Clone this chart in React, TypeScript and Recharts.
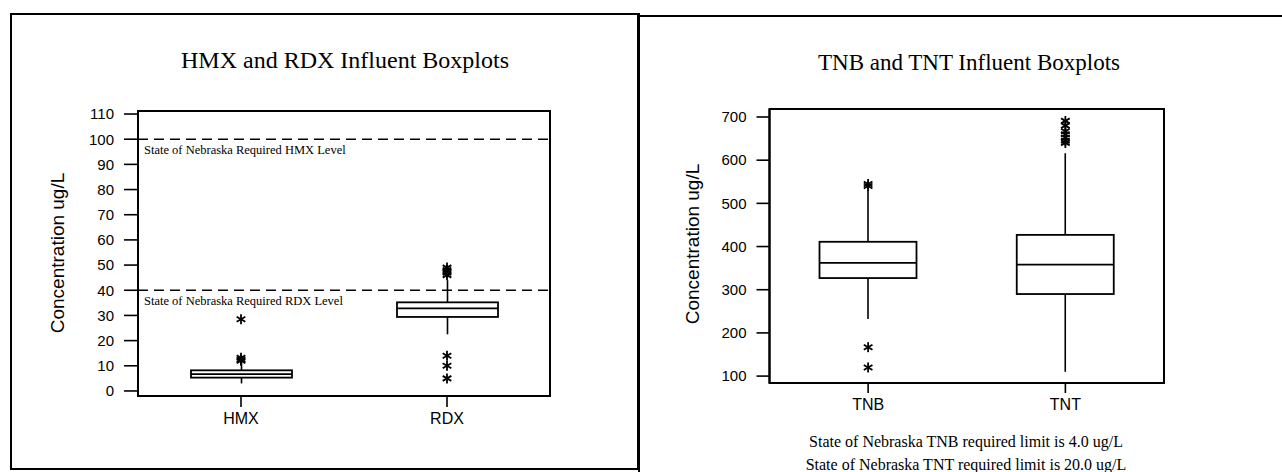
import React from 'react';
import { ComposedChart, Bar, Scatter, XAxis, YAxis, ReferenceLine, ReferenceArea } from 'recharts';

// ---- Left chart data (HMX / RDX) ----
const leftCategories = ['HMX', 'RDX'];
const leftQ1 = [5.3, 29.4];
const leftMedian = [6.7, 32.8];
const leftQ3 = [8.2, 35.2];
const leftWhiskerLow = [3.0, 22.5];
const leftWhiskerHigh = [11.5, 44.0];
const leftOutlierCats = ['HMX', 'HMX', 'HMX', 'HMX', 'RDX', 'RDX', 'RDX', 'RDX', 'RDX', 'RDX', 'RDX'];
const leftOutlierValues = [28.5, 13.2, 12.5, 12.0, 49.0, 48.0, 47.0, 46.0, 14.0, 10.0, 5.0];
const leftTicks = [0, 10, 20, 30, 40, 50, 60, 70, 80, 90, 100, 110];
const leftDomain = [-2, 111.2];
const leftLimits = [100, 40];
const leftLimitLabels = ['State of Nebraska Required HMX Level', 'State of Nebraska Required RDX Level'];

// ---- Right chart data (TNB / TNT) ----
const rightCategories = ['TNB', 'TNT'];
const rightQ1 = [327, 290];
const rightMedian = [362, 358];
const rightQ3 = [411, 427];
const rightWhiskerLow = [232, 110];
const rightWhiskerHigh = [531, 616];
const rightOutlierCats = ['TNB', 'TNB', 'TNB', 'TNB', 'TNT', 'TNT', 'TNT', 'TNT', 'TNT', 'TNT', 'TNT'];
const rightOutlierValues = [545, 540, 167, 120, 691, 680, 667, 660, 652, 645, 640];
const rightTicks = [100, 200, 300, 400, 500, 600, 700];
const rightDomain = [84, 718.5];
const rightNotes = [
  'State of Nebraska TNB required limit is 4.0 ug/L',
  'State of Nebraska TNT required limit is 20.0 ug/L',
];

const SERIF = '"Liberation Serif", "Times New Roman", serif';
const SANS = '"Liberation Sans", Arial, Helvetica, sans-serif';

function buildBoxData(cats: string[], q1: number[], med: number[], q3: number[], lo: number[], hi: number[]) {
  return cats.map((name, i) => ({
    name,
    box: [q1[i], q3[i]],
    q1: q1[i],
    median: med[i],
    q3: q3[i],
    low: lo[i],
    high: hi[i],
  }));
}

function buildOutliers(cats: string[], vals: number[]) {
  return cats.map((name, i) => ({ name, v: vals[i] }));
}

const BoxShape = (props: any) => {
  const { x, y, width, height, payload } = props;
  if (x == null || y == null || !payload) return null;
  const span = payload.q3 - payload.q1;
  const k = span !== 0 ? height / span : 0;
  const cx = x + width / 2;
  const yMed = y + (payload.q3 - payload.median) * k;
  const yHigh = y - (payload.high - payload.q3) * k;
  const yLow = y + height + (payload.q1 - payload.low) * k;
  return (
    <g>
      <line x1={cx} x2={cx} y1={yHigh} y2={y} stroke="#000" strokeWidth={1.6} />
      <line x1={cx} x2={cx} y1={y + height} y2={yLow} stroke="#000" strokeWidth={1.6} />
      <rect x={x} y={y} width={width} height={height} fill="#fff" stroke="#000" strokeWidth={1.8} />
      <line x1={x} x2={x + width} y1={yMed} y2={yMed} stroke="#000" strokeWidth={1.8} />
    </g>
  );
};

const Asterisk = (props: any) => {
  const { cx, cy } = props;
  if (cx == null || cy == null) return null;
  const r = 5;
  const lines = [90, 30, 150].map((deg) => {
    const a = (deg * Math.PI) / 180;
    return { dx: Math.cos(a) * r, dy: Math.sin(a) * r };
  });
  return (
    <g>
      {lines.map((l, i) => (
        <line key={i} x1={cx - l.dx} y1={cy - l.dy} x2={cx + l.dx} y2={cy + l.dy} stroke="#000" strokeWidth={1.8} />
      ))}
    </g>
  );
};

const Text = ({ x, y, size, font, children, rotate }: any) => (
  <div
    style={{
      position: 'absolute',
      left: x,
      top: y,
      transform: `translate(-50%, -50%)${rotate ? ` rotate(${rotate}deg)` : ''}`,
      fontFamily: font,
      fontSize: size,
      lineHeight: 1,
      whiteSpace: 'nowrap',
      color: '#000',
    }}
  >
    {children}
  </div>
);

const leftData = buildBoxData(leftCategories, leftQ1, leftMedian, leftQ3, leftWhiskerLow, leftWhiskerHigh);
const leftOut = buildOutliers(leftOutlierCats, leftOutlierValues);
const rightData = buildBoxData(rightCategories, rightQ1, rightMedian, rightQ3, rightWhiskerLow, rightWhiskerHigh);
const rightOut = buildOutliers(rightOutlierCats, rightOutlierValues);

const axisLine = { stroke: '#000', strokeWidth: 2 };
const tickLine = { stroke: '#000', strokeWidth: 1.6 };

export default function App() {
  return (
    <div style={{ position: 'absolute', left: 0, top: 0, width: 1282, height: 472, background: '#fff', overflow: 'hidden' }}>
      {/* frames */}
      <div style={{ position: 'absolute', left: 10, top: 13, width: 629, height: 457, border: '2px solid #000', boxSizing: 'border-box' }} />
      <div style={{ position: 'absolute', left: 638, top: 15, width: 644, height: 2, background: '#000' }} />
      <div style={{ position: 'absolute', left: 638, top: 13, width: 2, height: 459, background: '#000' }} />

      {/* Left chart */}
      <div style={{ position: 'absolute', left: 0, top: 0 }}>
        <ComposedChart
          width={640}
          height={472}
          data={leftData}
          margin={{ top: 111, right: 90, bottom: 36, left: 78 }}
        >
          <XAxis
            dataKey="name"
            type="category"
            allowDuplicatedCategory={false}
            height={40}
            axisLine={axisLine}
            tickLine={tickLine}
            tickSize={11}
            tickMargin={6}
            tick={{ fill: '#000', fontSize: 16, fontFamily: SANS }}
          />
          <YAxis
            type="number"
            domain={leftDomain}
            ticks={leftTicks}
            allowDataOverflow
            width={60}
            axisLine={axisLine}
            tickLine={tickLine}
            tickSize={14}
            tickMargin={10}
            tick={{ fill: '#000', fontSize: 15, fontFamily: SANS }}
            interval={0}
          />
          <ReferenceArea y1={leftDomain[0]} y2={leftDomain[1]} fill="none" fillOpacity={0} stroke="#000" strokeWidth={2} ifOverflow="visible" />
          {leftLimits.map((v, i) => (
            <ReferenceLine
              key={v}
              y={v}
              stroke="#000"
              strokeWidth={1.6}
              strokeDasharray="10 6"
              label={{ value: leftLimitLabels[i], position: 'insideTopLeft', offset: 6, fill: '#000', fontSize: 12.5, fontFamily: SERIF }}
            />
          ))}
          <Bar dataKey="box" barSize={101} shape={BoxShape} isAnimationActive={false} />
          <Scatter data={leftOut} dataKey="v" shape={Asterisk} isAnimationActive={false} />
        </ComposedChart>
      </div>

      {/* Right chart */}
      <div style={{ position: 'absolute', left: 640, top: 0 }}>
        <ComposedChart
          width={642}
          height={472}
          data={rightData}
          margin={{ top: 109, right: 118, bottom: 49, left: 70 }}
        >
          <XAxis
            dataKey="name"
            type="category"
            allowDuplicatedCategory={false}
            height={40}
            axisLine={axisLine}
            tickLine={tickLine}
            tickSize={10}
            tickMargin={6}
            tick={{ fill: '#000', fontSize: 16, fontFamily: SANS }}
          />
          <YAxis
            type="number"
            domain={rightDomain}
            ticks={rightTicks}
            allowDataOverflow
            width={59.5}
            axisLine={axisLine}
            tickLine={tickLine}
            tickSize={13}
            tickMargin={10}
            tick={{ fill: '#000', fontSize: 15, fontFamily: SANS }}
            interval={0}
          />
          <ReferenceArea y1={rightDomain[0]} y2={rightDomain[1]} fill="none" fillOpacity={0} stroke="#000" strokeWidth={2} ifOverflow="visible" />
          <Bar dataKey="box" barSize={97} shape={BoxShape} isAnimationActive={false} />
          <Scatter data={rightOut} dataKey="v" shape={Asterisk} isAnimationActive={false} />
        </ComposedChart>
      </div>

      {/* Titles and labels */}
      <Text x={345} y={60} size={24} font={SERIF}>HMX and RDX Influent Boxplots</Text>
      <Text x={969} y={62} size={23} font={SERIF}>TNB and TNT Influent Boxplots</Text>
      <Text x={57} y={253} size={19} font={SANS} rotate={-90}>Concentration ug/L</Text>
      <Text x={692} y={244} size={19} font={SANS} rotate={-90}>Concentration ug/L</Text>
      <Text x={966} y={442} size={16} font={SERIF}>{rightNotes[0]}</Text>
      <Text x={966} y={465} size={16} font={SERIF}>{rightNotes[1]}</Text>
    </div>
  );
}
